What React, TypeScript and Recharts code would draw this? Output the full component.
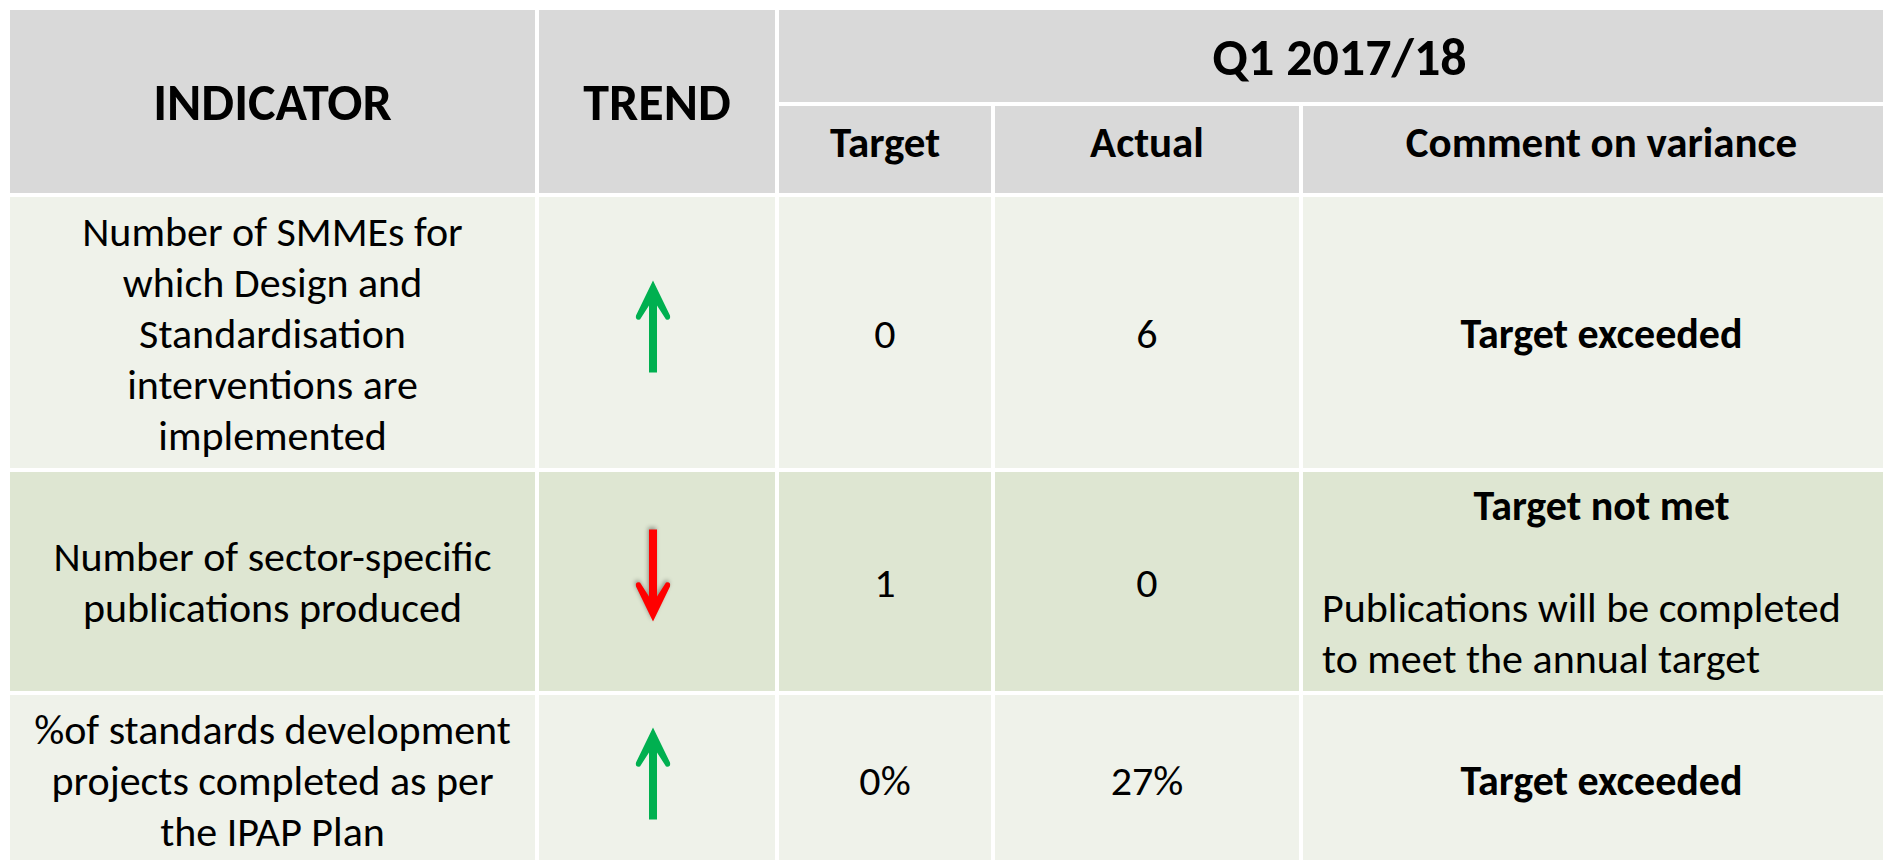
import React from 'react';
import { ComposedChart, XAxis, YAxis, ReferenceArea } from 'recharts';

const headerTitles = ['INDICATOR', 'TREND'];
const periodTitle = 'Q1 2017/18';
const columnTitles = ['Target', 'Actual', 'Comment on variance'];

const indicatorLines = [
  ['Number of SMMEs for', 'which Design and', 'Standardisation', 'interventions are', 'implemented'],
  ['Number of sector-specific', 'publications produced'],
  ['%of standards development', 'projects completed as per', 'the IPAP Plan'],
];
const trends = ['up', 'down', 'up'];
const targets = ['0', '1', '0%'];
const actuals = ['6', '0', '27%'];
const verdicts = ['Target exceeded', 'Target not met', 'Target exceeded'];
const notes = [[], ['Publications will be completed', 'to meet the annual target'], []];

// page layout (the table runs past the right and bottom edge, like the slide crop)
const WIDTH = 1883;
const HEIGHT = 860;
const colLines = [10, 537, 777, 993, 1301, 1902];
const rowLines = [10, 104, 195, 470, 693, 866];
const GAP = 2;
const LINE = 51;
const FONT = 'Carlito, Lato, sans-serif';
const TITLE_SIZE = 52;
const SUB_SIZE = 43;
const BODY_SIZE = 42;

const HEADER_BG = '#D9D9D9';
const ROW_BG = ['#EFF2EA', '#DEE6D2', '#EFF2EA'];
const UP_COLOR = '#00B050';
const DOWN_COLOR = '#FF0000';

type Block = { lines: string[]; size: number; bold?: boolean; align?: 'center' | 'left'; gapBefore?: number };

interface Cell {
  key: string;
  x1: number;
  x2: number;
  y1: number;
  y2: number;
  fill: string;
  blocks?: Block[];
  arrow?: string;
  dy?: number;
}

function span(c0: number, c1: number, r0: number, r1: number) {
  return {
    x1: colLines[c0] + (c0 ? GAP : 0),
    x2: colLines[c1] - GAP,
    y1: rowLines[r0] + (r0 ? GAP : 0),
    y2: rowLines[r1] - GAP,
  };
}

function buildCells(): Cell[] {
  const cells: Cell[] = [];
  headerTitles.forEach((t, i) => {
    cells.push({ key: 'h' + i, ...span(i, i + 1, 0, 2), fill: HEADER_BG, blocks: [{ lines: [t], size: TITLE_SIZE, bold: true }] });
  });
  cells.push({ key: 'period', ...span(2, 5, 0, 1), fill: HEADER_BG, blocks: [{ lines: [periodTitle], size: TITLE_SIZE, bold: true }] });
  columnTitles.forEach((t, i) => {
    cells.push({ key: 'c' + i, ...span(2 + i, 3 + i, 1, 2), fill: HEADER_BG, blocks: [{ lines: [t], size: SUB_SIZE, bold: true }], dy: -8 });
  });
  indicatorLines.forEach((lines, r) => {
    const row = 2 + r;
    const bg = ROW_BG[r];
    cells.push({ key: 'ind' + r, ...span(0, 1, row, row + 1), fill: bg, blocks: [{ lines, size: BODY_SIZE }] });
    cells.push({ key: 'tr' + r, ...span(1, 2, row, row + 1), fill: bg, arrow: trends[r], dy: -6 });
    cells.push({ key: 'tg' + r, ...span(2, 3, row, row + 1), fill: bg, blocks: [{ lines: [targets[r]], size: BODY_SIZE }] });
    cells.push({ key: 'ac' + r, ...span(3, 4, row, row + 1), fill: bg, blocks: [{ lines: [actuals[r]], size: BODY_SIZE }] });
    const blocks: Block[] = [{ lines: [verdicts[r]], size: BODY_SIZE, bold: true }];
    if (notes[r].length) blocks.push({ lines: notes[r], size: BODY_SIZE, align: 'left', gapBefore: 1 });
    cells.push({ key: 'cm' + r, ...span(4, 5, row, row + 1), fill: bg, blocks });
  });
  return cells;
}

function Arrow({ cx, cy, dir }: { cx: number; cy: number; dir: string }) {
  const len = 92;
  const head = 38;
  const half = 17;
  const s = 4;
  const t = -len / 2;
  const b = len / 2;
  const d =
    `M0,${t} L${half},${t + head - 3} Q${half + 1},${t + head + 2} ${half - 4},${t + head + 1} ` +
    `L${s},${t + 25} L${s},${b} L${-s},${b} L${-s},${t + 25} ` +
    `L${-half + 4},${t + head + 1} Q${-half - 1},${t + head + 2} ${-half},${t + head - 3} Z`;
  const down = dir === 'down';
  return (
    <path
      d={d}
      fill={down ? DOWN_COLOR : UP_COLOR}
      transform={`translate(${cx},${cy}) rotate(${down ? 180 : 0})`}
      style={down ? { filter: 'drop-shadow(1px 2px 2px rgba(0,0,0,0.35))' } : undefined}
    />
  );
}

function CellShape(props: any, cell: Cell) {
  const { x, y, width, height } = props;
  const cx = x + width / 2;
  const cy = y + height / 2 + (cell.dy || 0);
  const items: { text: string; size: number; bold?: boolean; align?: string }[] = [];
  (cell.blocks || []).forEach((bl) => {
    for (let g = 0; g < (bl.gapBefore || 0); g++) items.push({ text: '', size: bl.size });
    bl.lines.forEach((l) => items.push({ text: l, size: bl.size, bold: bl.bold, align: bl.align }));
  });
  const n = items.length;
  return (
    <g>
      <rect x={x} y={y} width={width} height={height} fill={cell.fill} />
      {items.map((it, i) =>
        it.text ? (
          <text
            key={i}
            x={it.align === 'left' ? x + 19 : cx}
            y={cy + (i - (n - 1) / 2) * LINE + it.size * 0.358}
            textAnchor={it.align === 'left' ? 'start' : 'middle'}
            fontFamily={FONT}
            fontSize={it.size}
            fontWeight={it.bold ? 700 : 400}
            fill="#000"
          >
            {it.text}
          </text>
        ) : null
      )}
      {cell.arrow ? <Arrow cx={cx - 4} cy={cy} dir={cell.arrow} /> : null}
    </g>
  );
}

export default function App() {
  const cells = buildCells();
  return (
    <div style={{ position: 'absolute', left: 0, top: 0, width: WIDTH, height: HEIGHT, overflow: 'hidden', background: '#fff' }}>
      <ComposedChart width={WIDTH} height={HEIGHT} data={[]} margin={{ top: 0, right: 0, bottom: 0, left: 0 }}>
        <XAxis type="number" dataKey="x" domain={[0, WIDTH]} hide allowDataOverflow />
        <YAxis type="number" dataKey="y" domain={[0, HEIGHT]} reversed hide allowDataOverflow />
        {cells.map((c) => (
          <ReferenceArea
            key={c.key}
            x1={c.x1}
            x2={c.x2}
            y1={c.y1}
            y2={c.y2}
            ifOverflow="hidden"
            fill={c.fill}
            fillOpacity={1}
            stroke="none"
            shape={(p: any) => CellShape(p, c)}
          />
        ))}
      </ComposedChart>
    </div>
  );
}
